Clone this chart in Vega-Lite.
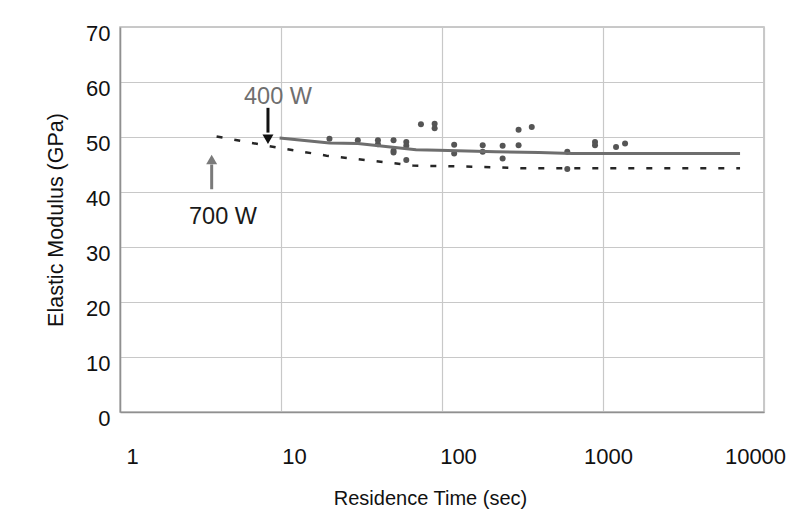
{
  "$schema": "https://vega.github.io/schema/vega-lite/v6.json",
  "autosize": "none",
  "width": 644,
  "height": 385,
  "padding": {"left": 120, "top": 27, "right": 38, "bottom": 115},
  "background": "white",
  "config": {
    "font": "Liberation Sans",
    "view": {"stroke": "#b8b8b8", "strokeWidth": 1.5},
    "axis": {"labelColor": "#111111", "titleColor": "#111111", "titleFontWeight": "normal", "gridColor": "#c8c8c8", "gridWidth": 1.2, "domainColor": "#909090", "domainWidth": 1.5, "ticks": false}
  },
  "datasets": {
    "pts": [
      {"t": 20, "E": 49.7},
      {"t": 30, "E": 49.4},
      {"t": 40, "E": 49.4}, {"t": 40, "E": 48.7},
      {"t": 50, "E": 49.4}, {"t": 50, "E": 47.5}, {"t": 50, "E": 47.2},
      {"t": 60, "E": 49.1}, {"t": 60, "E": 48.4}, {"t": 60, "E": 45.8},
      {"t": 74, "E": 52.3},
      {"t": 90, "E": 52.4}, {"t": 90, "E": 51.6},
      {"t": 119, "E": 48.6}, {"t": 119, "E": 47.0},
      {"t": 179, "E": 48.5}, {"t": 179, "E": 47.3},
      {"t": 238, "E": 48.4}, {"t": 238, "E": 46.1},
      {"t": 299, "E": 51.3}, {"t": 299, "E": 48.5},
      {"t": 361, "E": 51.8},
      {"t": 600, "E": 47.3}, {"t": 600, "E": 44.2},
      {"t": 892, "E": 49.1}, {"t": 892, "E": 48.5},
      {"t": 1205, "E": 48.2},
      {"t": 1371, "E": 48.8}
    ],
    "w400": [
      {"t": 9.8, "E": 49.8},
      {"t": 20, "E": 48.9},
      {"t": 30, "E": 48.8},
      {"t": 69, "E": 47.7},
      {"t": 95, "E": 47.6},
      {"t": 215, "E": 47.3},
      {"t": 400, "E": 47.2},
      {"t": 640, "E": 47.0},
      {"t": 7100, "E": 47.0}
    ],
    "w700": [
      {"t": 3.98, "E": 50.1},
      {"t": 9.4, "E": 48.1},
      {"t": 19.2, "E": 46.6},
      {"t": 55, "E": 45.1},
      {"t": 66, "E": 44.8},
      {"t": 107, "E": 44.7},
      {"t": 207, "E": 44.5},
      {"t": 318, "E": 44.3},
      {"t": 7100, "E": 44.3}
    ],
    "labels": [
      {"t": 9.58, "E": 57.3, "txt": "400 W", "c": "#6f6f6f"},
      {"t": 4.36, "E": 35.5, "txt": "700 W", "c": "#1a1a1a"}
    ],
    "shafts": [
      {"t": 8.3, "E1": 55.3, "E2": 50.8, "c": "#111111"},
      {"t": 3.71, "E1": 40.5, "E2": 45.0, "c": "#7a7a7a"}
    ],
    "heads": [
      {"t": 8.3, "E": 49.6, "shape": "triangle-down", "c": "#111111"},
      {"t": 3.71, "E": 45.9, "shape": "triangle-up", "c": "#7a7a7a"}
    ]
  },
  "layer": [
    {
      "data": {"name": "pts"},
      "mark": {"type": "point", "filled": true, "opacity": 1, "size": 36, "color": "#555555"},
      "encoding": {
        "x": {
          "field": "t", "type": "quantitative",
          "scale": {"type": "log", "domain": [1, 10000]},
          "axis": {
            "title": "Residence Time (sec)", "titleFontSize": 20, "titlePadding": 21, "titleX": 310,
            "values": [1, 10, 100, 1000, 10000], "format": "d",
            "labelFontSize": 22, "labelPadding": 34, "labelFlush": false,
            "labelOffset": {"condition": [
              {"test": "datum.value == 1", "value": 12},
              {"test": "datum.value == 10", "value": 13},
              {"test": "datum.value == 100", "value": 16},
              {"test": "datum.value == 1000", "value": 5}
            ], "value": -9}
          }
        },
        "y": {
          "field": "E", "type": "quantitative",
          "scale": {"domain": [0, 70]},
          "axis": {
            "title": "Elastic Modulus (GPa)", "titleFontSize": 21.5, "titlePadding": 18,
            "values": [0, 10, 20, 30, 40, 50, 60, 70],
            "labelFontSize": 22, "labelPadding": 10, "labelOffset": 6
          }
        }
      }
    },
    {
      "data": {"name": "w400"},
      "mark": {"type": "line", "color": "#6e6e6e", "strokeWidth": 3},
      "encoding": {
        "x": {"field": "t", "type": "quantitative"},
        "y": {"field": "E", "type": "quantitative"}
      }
    },
    {
      "data": {"name": "w700"},
      "mark": {"type": "line", "color": "#262626", "strokeWidth": 2.5, "strokeDash": [6, 12]},
      "encoding": {
        "x": {"field": "t", "type": "quantitative"},
        "y": {"field": "E", "type": "quantitative"}
      }
    },
    {
      "data": {"name": "shafts"},
      "mark": {"type": "rule", "strokeWidth": 3},
      "encoding": {
        "x": {"field": "t", "type": "quantitative"},
        "y": {"field": "E1", "type": "quantitative"},
        "y2": {"field": "E2"},
        "color": {"field": "c", "type": "nominal", "scale": null}
      }
    },
    {
      "data": {"name": "heads"},
      "mark": {"type": "point", "filled": true, "opacity": 1, "size": 120},
      "encoding": {
        "x": {"field": "t", "type": "quantitative"},
        "y": {"field": "E", "type": "quantitative"},
        "shape": {"field": "shape", "type": "nominal", "scale": null},
        "color": {"field": "c", "type": "nominal", "scale": null}
      }
    },
    {
      "data": {"name": "labels"},
      "mark": {"type": "text", "fontSize": 23.5, "align": "center", "baseline": "middle"},
      "encoding": {
        "x": {"field": "t", "type": "quantitative"},
        "y": {"field": "E", "type": "quantitative"},
        "text": {"field": "txt"},
        "color": {"field": "c", "type": "nominal", "scale": null}
      }
    }
  ]
}
